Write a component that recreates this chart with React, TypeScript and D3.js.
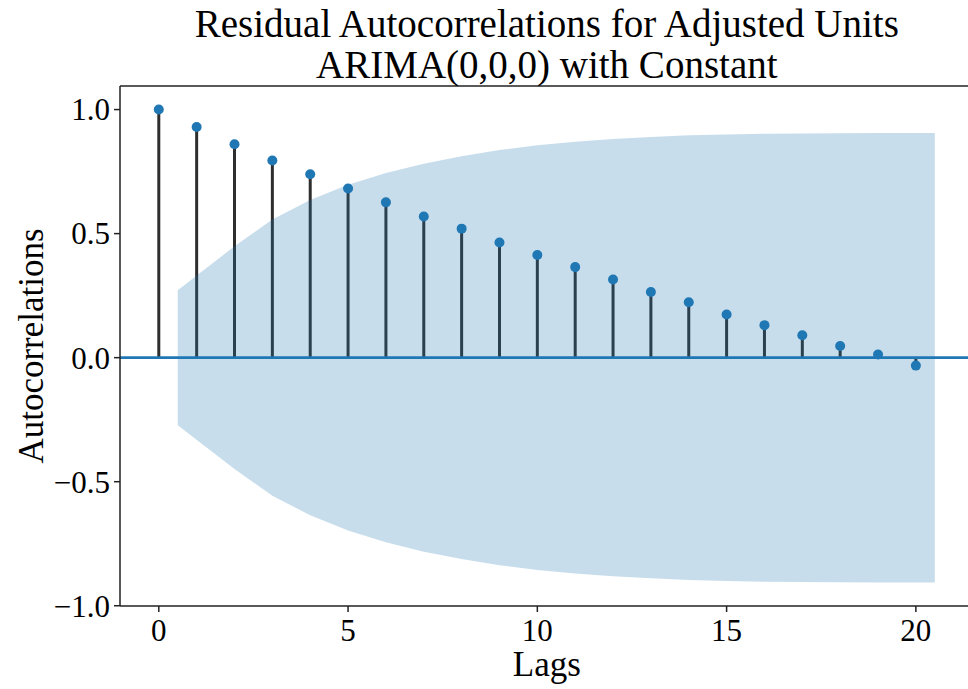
import React from "react";
import { scaleLinear, area } from "d3";

// autocorrelation per lag
const lags = [0, 1, 2, 3, 4, 5, 6, 7, 8, 9, 10, 11, 12, 13, 14, 15, 16, 17, 18, 19, 20];
const acfValues = [
  1.0, 0.93, 0.86, 0.795, 0.739, 0.682, 0.626, 0.569, 0.52, 0.464, 0.414,
  0.365, 0.315, 0.265, 0.223, 0.174, 0.131, 0.09, 0.047, 0.013, -0.032,
];
// half-width of the 95% confidence band for lags 1..20
const bandWidth = [
  0.272, 0.449, 0.557, 0.635, 0.697, 0.744, 0.782, 0.812, 0.837, 0.856,
  0.87, 0.881, 0.889, 0.896, 0.9, 0.903, 0.904, 0.905, 0.906, 0.906,
];
const xTicks = [0, 5, 10, 15, 20];
const yTicks = [-1.0, -0.5, 0.0, 0.5, 1.0];

const titleLines = ["Residual Autocorrelations for Adjusted Units", "ARIMA(0,0,0) with Constant"];

const W = 968;
const H = 689;
const left = 120, right = 973.6, top = 86, bottom = 606;
const font = "'Liberation Serif', 'Times New Roman', serif";
const blue = "#1f77b4";

export default function App() {
  const x = scaleLinear().domain([-1.025, 21.525]).range([left, right]);
  const y = scaleLinear().domain([-1.001, 1.095]).range([bottom, top]);

  // band points: first lag shifted left by 0.5, last shifted right by 0.5
  const bandPts = bandWidth.map((w, i) => {
    let lag = lags[i + 1];
    if (i === 0) lag -= 0.5;
    if (i === bandWidth.length - 1) lag += 0.5;
    return { lag, w };
  });
  const bandPath = area<{ lag: number; w: number }>()
    .x(d => x(d.lag))
    .y0(d => y(-d.w))
    .y1(d => y(d.w))(bandPts) || "";

  const fmt = (v: number) => (v < 0 ? "\u2212" : "") + Math.abs(v).toFixed(1);

  return (
    <svg width={W} height={H} style={{ position: "absolute", left: 0, top: 0, background: "#fff" }}>
      <defs>
        <clipPath id="plotArea">
          <rect x={left} y={top} width={right - left} height={bottom - top} />
        </clipPath>
      </defs>
      <g clipPath="url(#plotArea)">
        {lags.map((l, i) => (
          <line key={"s" + l} x1={x(l)} x2={x(l)} y1={y(0)} y2={y(acfValues[i])} stroke="#2e2e2e" strokeWidth={3} />
        ))}
        <line x1={left} x2={right} y1={y(0)} y2={y(0)} stroke={blue} strokeWidth={2.6} />
        {lags.map((l, i) => (
          <circle key={"c" + l} cx={x(l)} cy={y(acfValues[i])} r={5} fill={blue} />
        ))}
        <path d={bandPath} fill={blue} fillOpacity={0.25} />
      </g>

      {/* spines */}
      <g stroke="#222" strokeWidth={1.5} fill="none">
        <line x1={left} x2={left} y1={top} y2={bottom} />
        <line x1={left} x2={right} y1={top} y2={top} />
        <line x1={left} x2={right} y1={bottom} y2={bottom} />
        <line x1={right} x2={right} y1={top} y2={bottom} />
      </g>

      {/* y ticks */}
      {yTicks.map(t => (
        <g key={"y" + t}>
          <line x1={left - 6} x2={left} y1={y(t)} y2={y(t)} stroke="#222" strokeWidth={1.5} />
          <text x={left - 10} y={y(t)} dy="0.35em" textAnchor="end" fontFamily={font} fontSize={31} fill="#000">
            {fmt(t)}
          </text>
        </g>
      ))}
      {/* x ticks */}
      {xTicks.map(t => (
        <g key={"x" + t}>
          <line x1={x(t)} x2={x(t)} y1={bottom} y2={bottom + 6} stroke="#222" strokeWidth={1.5} />
          <text x={x(t)} y={bottom + 35} textAnchor="middle" fontFamily={font} fontSize={31} fill="#000">
            {t}
          </text>
        </g>
      ))}

      <text x={(left + right) / 2} y={676} textAnchor="middle" fontFamily={font} fontSize={35} fill="#000">Lags</text>
      <text transform={`translate(43, ${(top + bottom) / 2}) rotate(-90)`} textAnchor="middle" fontFamily={font} fontSize={35} fill="#000">
        Autocorrelations
      </text>
      {titleLines.map((t, i) => (
        <text key={t} x={(left + right) / 2} y={37 + i * 41} textAnchor="middle" fontFamily={font} fontSize={39} fill="#000">
          {t}
        </text>
      ))}
    </svg>
  );
}
